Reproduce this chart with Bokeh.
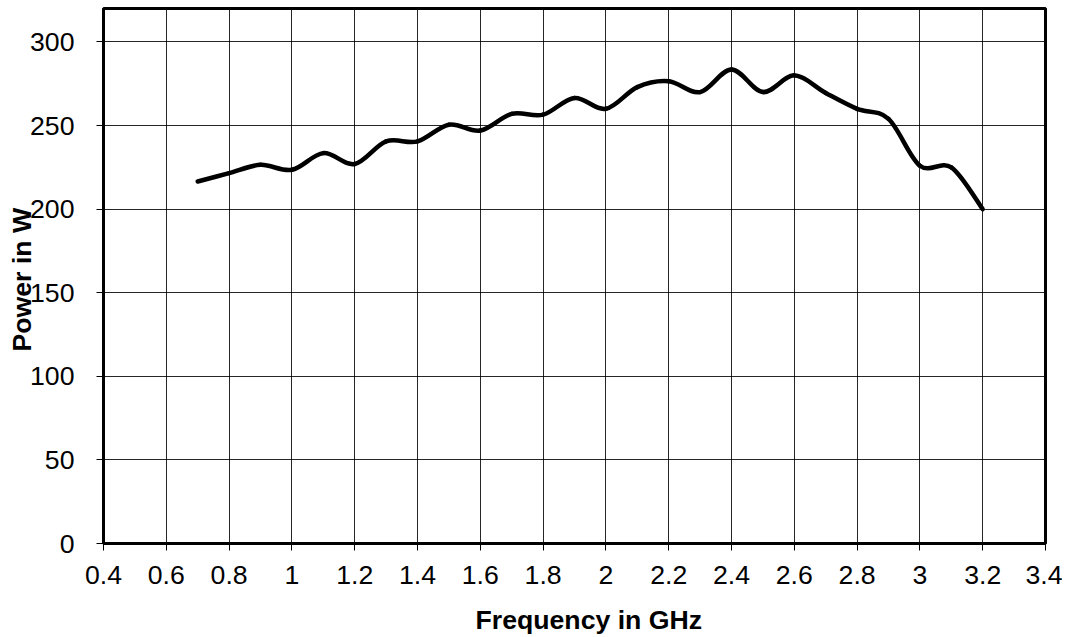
from bokeh.plotting import figure
from bokeh.models import FixedTicker, CustomJSTickFormatter, Title, ColumnDataSource, Range1d
from bokeh.embed import file_html
from bokeh.resources import INLINE

# ---- data ----
freq_ghz = [0.7, 0.8, 0.9, 1.0, 1.1, 1.2, 1.3, 1.4, 1.5, 1.6, 1.7, 1.8, 1.9,
            2.0, 2.1, 2.2, 2.3, 2.4, 2.5, 2.6, 2.7, 2.8, 2.9, 3.0, 3.1, 3.2]
power_w = [216.5, 221.5, 226.5, 223.5, 233.5, 227.0, 240.5, 240.5, 250.5, 247.0,
           257.0, 256.5, 266.5, 260.0, 273.0, 276.5, 270.0, 283.5, 270.0, 280.0,
           269.5, 260.0, 254.0, 226.0, 225.0, 200.0]
x_ticks = [0.4, 0.6, 0.8, 1.0, 1.2, 1.4, 1.6, 1.8, 2.0, 2.2, 2.4, 2.6, 2.8, 3.0, 3.2, 3.4]
y_ticks = [0, 50, 100, 150, 200, 250, 300]
x_title = "Frequency in GHz"
y_title = "Power in W"

FONT = "Liberation Sans"
FS = "20pt"

# smoothed line (Catmull-Rom style Bezier segments through the data points)
n = len(freq_ghz)
seg = dict(x0=[], y0=[], x1=[], y1=[], cx0=[], cy0=[], cx1=[], cy1=[])
for i in range(n - 1):
    a = max(i - 1, 0)
    d = min(i + 2, n - 1)
    xa, ya = freq_ghz[a], power_w[a]
    xb, yb = freq_ghz[i], power_w[i]
    xc, yc = freq_ghz[i + 1], power_w[i + 1]
    xd, yd = freq_ghz[d], power_w[d]
    seg["x0"].append(xb); seg["y0"].append(yb)
    seg["x1"].append(xc); seg["y1"].append(yc)
    seg["cx0"].append(xb + (xc - xa) / 6.0); seg["cy0"].append(yb + (yc - ya) / 6.0)
    seg["cx1"].append(xc - (xd - xb) / 6.0); seg["cy1"].append(yc - (yd - yb) / 6.0)
src = ColumnDataSource(seg)

p = figure(width=1062, height=637, output_backend="svg", toolbar_location=None,
           x_range=Range1d(0.4, 3.4), y_range=Range1d(0, 320),
           min_border_left=103, min_border_right=17, min_border_top=8, min_border_bottom=93)

p.background_fill_color = "white"
p.border_fill_color = "white"
p.outline_line_color = "black"
p.outline_line_width = 3

p.bezier(x0="x0", y0="y0", x1="x1", y1="y1", cx0="cx0", cy0="cy0", cx1="cx1", cy1="cy1",
         source=src, line_color="black", line_width=4.5, line_cap="round")

for ax in (p.xaxis[0], p.yaxis[0]):
    ax.axis_line_color = None
    ax.major_tick_in = 0
    ax.major_tick_out = 7
    ax.major_tick_line_color = "black"
    ax.major_tick_line_width = 1
    ax.minor_tick_line_color = None
    ax.major_label_text_font = FONT
    ax.major_label_text_font_size = FS
    ax.major_label_text_color = "black"

p.xaxis[0].ticker = FixedTicker(ticks=x_ticks)
p.yaxis[0].ticker = FixedTicker(ticks=y_ticks)
p.xaxis[0].formatter = CustomJSTickFormatter(code="return String(Math.round(tick*10)/10);")
p.yaxis[0].formatter = CustomJSTickFormatter(code="return String(Math.round(tick));")
p.xaxis[0].major_label_standoff = 15
p.yaxis[0].major_label_standoff = 22
# blank spacer label to leave room between tick labels and the title
p.xaxis[0].axis_label = " "
p.xaxis[0].axis_label_text_font_size = "1px"
p.xaxis[0].axis_label_standoff = 9

p.xgrid.ticker = FixedTicker(ticks=x_ticks)
p.ygrid.ticker = FixedTicker(ticks=y_ticks)
p.grid.grid_line_color = "black"
p.grid.grid_line_width = 1
p.grid.grid_line_alpha = 0.85

xt = Title(text=x_title, align="left", offset=372, text_font=FONT, text_font_size=FS,
           text_font_style="bold", text_color="black", standoff=6)
yt = Title(text=y_title, align="left", offset=192, text_font=FONT, text_font_size=FS,
           text_font_style="bold", text_color="black", standoff=-18)
p.add_layout(xt, "below")
p.add_layout(yt, "left")

open("out.html", "w").write(file_html(p, INLINE))
